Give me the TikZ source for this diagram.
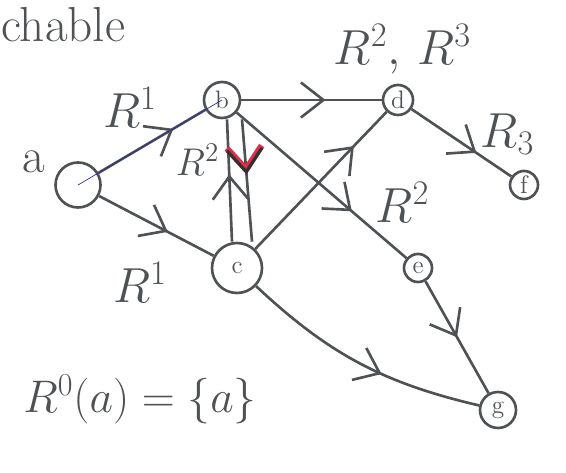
\RequirePackage{fix-cm}
\documentclass[tikz,border=0pt]{standalone}
\usepackage{tikz}
\usetikzlibrary{positioning,arrows.meta,decorations.markings}
\definecolor{pen}{RGB}{78,82,84}
\definecolor{ink}{RGB}{45,45,160}
\definecolor{redpen}{RGB}{225,45,70}

\begin{document}
\begin{tikzpicture}[
  vert/.style={circle,draw=pen,line width=1.5pt,text=pen,inner sep=0pt,font=\Large},
  flow/.style={draw=pen,line width=1.5pt,postaction={decorate},
    decoration={markings,mark=at position #1 with {\arrow[pen,line width=1.5pt]{Straight Barb[length=4.5mm,width=7mm]}}}},
  flow/.default=0.55,
  redflow/.style={draw=pen,line width=1.5pt,postaction={decorate},
    decoration={markings,mark=at position 0.45 with {\arrow[redpen,line width=3.5pt]{Straight Barb[length=4.5mm,width=7mm]}\arrow[pen!60!black,line width=1.8pt]{Straight Barb[length=4.5mm,width=7mm]}}}},
  lbl/.style={text=pen,font=\fontsize{28}{32}\selectfont}
]
\useasboundingbox (0,0) rectangle (11.32,9.44);
\node[vert,minimum size=0.9cm] (a) at (1.56,5.74) {};
\node[vert,minimum size=0.72cm] (b) at (4.44,7.44) {b};
\node[vert,minimum size=1.0cm] (c) at (4.74,4.08) {c};
\node[vert,minimum size=0.6cm] (d) at (7.96,7.44) {d};
\node[vert,minimum size=0.56cm] (e) at (8.36,4.08) {e};
\node[vert,minimum size=0.56cm] (f) at (10.48,5.74) {f};
\node[vert,minimum size=0.72cm] (g) at (9.96,1.24) {g};

\node[lbl,anchor=west] (head) at (-0.1,8.95) {chable};
\node[lbl] (na) at (0.68,6.2) {a};
\node[lbl] (r1b) at (2.6,7.3) {$R^1$};
\node[lbl] (r1c) at (2.8,3.8) {$R^1$};
\node[lbl,font=\fontsize{22}{26}\selectfont] (r2v) at (3.95,6.25) {$R^2$};
\node[lbl] (r23) at (8.05,8.45) {$R^2,\,R^3$};
\node[lbl] (r2e) at (8.05,5.4) {$R^2$};
\node[lbl] (r3) at (10.15,6.75) {$R_3$};
\node[lbl,font=\fontsize{26}{30}\selectfont] (r0) at (2.8,1.45) {$R^0(a)=\{a\}$};

\draw[flow=0.7] (a) -- (b);
\draw[ink,thin] (a.center) -- (b.center);
\draw[flow=0.6] (a) -- (c);
\draw[flow=0.6] (b) -- (d);
\draw[flow=0.55] ([xshift=-1mm]c.north) -- ([xshift=1mm]b.south);
\draw[redflow] ([xshift=4mm]b.south) -- ([xshift=3mm]c.north);
\draw[flow=0.68] (b) -- (e);
\draw[flow=0.75] (c) -- (d);
\draw[flow=0.65] (d) -- (f);
\draw[flow=0.6] (c) to[bend right=15] (g);
\draw[flow=0.5] (e) -- (g);
\end{tikzpicture}
\end{document}
